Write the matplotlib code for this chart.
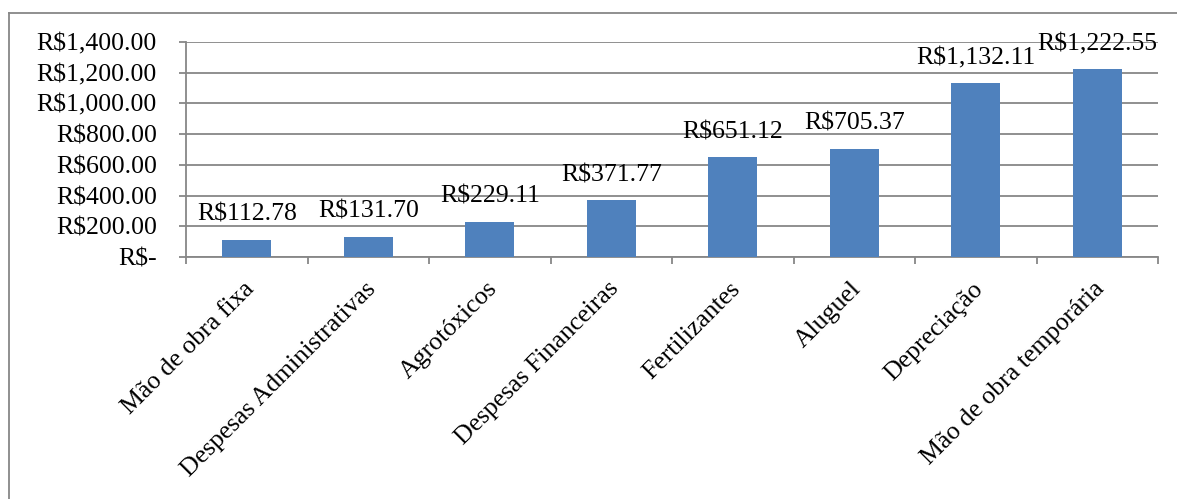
import matplotlib.pyplot as plt
from matplotlib.ticker import FuncFormatter
from matplotlib.lines import Line2D
from matplotlib.transforms import ScaledTranslation

# dados do gráfico
categorias = ['Mão de obra fixa', 'Despesas Administrativas', 'Agrotóxicos',
              'Despesas Financeiras', 'Fertilizantes', 'Aluguel',
              'Depreciação', 'Mão de obra temporária']
valores = [112.78, 131.70, 229.11, 371.77, 651.12, 705.37, 1132.11, 1222.55]
rotulos = ['R$112.78', 'R$131.70', 'R$229.11', 'R$371.77', 'R$651.12',
           'R$705.37', 'R$1,132.11', 'R$1,222.55']
yticks = [0, 200, 400, 600, 800, 1000, 1200, 1400]

plt.rcParams['font.family'] = ['Liberation Serif', 'DejaVu Serif']
fs = 18.5
cinza = '#878787'

fig = plt.figure(figsize=(11.77, 4.99), dpi=100)
ax = fig.add_axes([186 / 1177, 1 - 257 / 499, 972 / 1177, 215 / 499])

x = range(len(categorias))
ax.bar(x, valores, width=0.4, color='#4F81BD', zorder=3)

for i, (v, r) in enumerate(zip(valores, rotulos)):
    ax.annotate(r, (i, v), xytext=(0, 10), textcoords='offset points',
                ha='center', va='bottom', fontsize=fs, zorder=4)

ax.set_xlim(-0.5, len(categorias) - 0.5)
ax.set_ylim(0, 1400)
ax.set_yticks(yticks)


def moeda(v, pos):
    if v == 0:
        return 'R$-'
    return 'R${:,.2f}'.format(v)


ax.yaxis.set_major_formatter(FuncFormatter(moeda))
ax.yaxis.grid(True, color=cinza, linewidth=1.3, zorder=0)
ax.set_axisbelow(True)

# ticks do eixo x nas fronteiras das categorias
ax.set_xticks([i - 0.5 for i in range(len(categorias) + 1)])
ax.set_xticklabels([])
ax.set_xticks(list(x), minor=True)
ax.set_xticklabels(categorias, minor=True, rotation=45, ha='right', va='top',
                   rotation_mode='anchor', fontsize=fs)
ax.tick_params(axis='x', which='minor', length=0, pad=15)
ax.tick_params(axis='x', which='major', length=5, color=cinza, width=1.3)
ax.tick_params(axis='y', length=5, color=cinza, width=1.3, labelsize=fs, pad=16)

desloc = ScaledTranslation(-4 / 100, 0, fig.dpi_scale_trans)
for lab in ax.get_xticklabels(minor=True):
    lab.set_transform(lab.get_transform() + desloc)

for s in ['top', 'right']:
    ax.spines[s].set_visible(False)
for s in ['left', 'bottom']:
    ax.spines[s].set_color(cinza)
    ax.spines[s].set_linewidth(1.3)

# moldura do gráfico
fig.add_artist(Line2D([9 / 1177, 9 / 1177], [0, 1 - 13 / 499], color=cinza, linewidth=1.3))
fig.add_artist(Line2D([9 / 1177, 1], [1 - 13 / 499, 1 - 13 / 499], color=cinza, linewidth=1.3))

fig.savefig('out.png', dpi=100)
